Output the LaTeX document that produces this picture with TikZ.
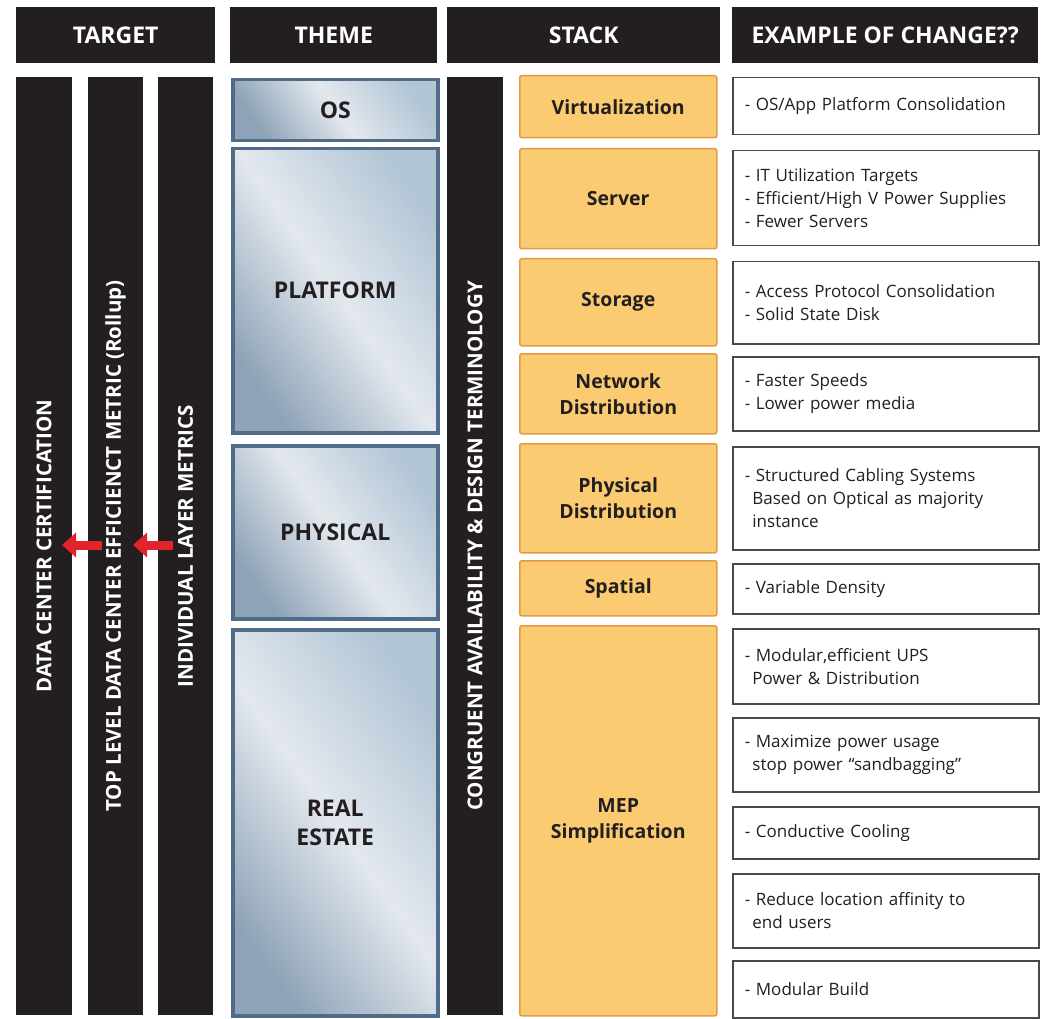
\documentclass[tikz,border=0pt]{standalone}
\usepackage{fontspec}
\setmainfont{Open Sans}
\usetikzlibrary{arrows.meta}
\definecolor{barblack}{HTML}{231F20}
\definecolor{themeedge}{HTML}{4F6D88}
\definecolor{themedark}{HTML}{8EA3B7}
\definecolor{themelight}{HTML}{E3E8EE}
\definecolor{themeblue}{HTML}{B3C6D6}
\definecolor{stackfill}{HTML}{FBCB72}
\definecolor{stackedge}{HTML}{E39A45}
\definecolor{boxedge}{HTML}{4A4A4A}
\definecolor{arrowred}{HTML}{E3232B}

\begin{document}
\begin{tikzpicture}[x=1pt,y=-1pt,
  header/.style={fill=barblack, text=white, anchor=north west, inner sep=0pt,
    font=\bfseries\fontsize{23}{26}\selectfont},
  vbar/.style={fill=barblack, text=white, rotate=90, inner sep=0pt,
    minimum width=938, font=\bfseries\fontsize{20.5}{24}\selectfont},
  themebox/.style={draw=themeedge, line width=3.5pt, anchor=north west,
    left color=themedark, right color=themeblue, middle color=themelight,
    shading angle=125, align=center, text=barblack,
    font=\bfseries\fontsize{23}{29}\selectfont},
  stackbox/.style={draw=stackedge, fill=stackfill, line width=1.5pt,
    rounded corners=2pt, anchor=north west, minimum width=197, align=center,
    text=barblack, font=\bfseries\fontsize{19.5}{26}\selectfont},
  changebox/.style={draw=boxedge, line width=1.5pt, fill=white, anchor=north west,
    minimum width=306, text width=282, inner xsep=12pt, align=left,
    text=barblack, font=\fontsize{17}{23}\selectfont},
  redarrow/.style={draw=arrowred, line width=9pt,
    -{Triangle[length=14pt,width=24pt]}}]
\useasboundingbox (0,0) rectangle (1042,1019);

% column headers
\node[header, minimum width=199, minimum height=56] (target) at (16,7) {TARGET};
\node[header, minimum width=207, minimum height=56] (theme) at (230,7) {THEME};
\node[header, minimum width=273, minimum height=56] (stack) at (447,7) {STACK};
\node[header, minimum width=306, minimum height=56] (change) at (732,7) {EXAMPLE OF CHANGE??};

% target bars
\node[vbar, minimum height=56] (dcc) at (44,546) {DATA CENTER CERTIFICATION};
\node[vbar, minimum height=55] (top) at (115.5,546) {TOP LEVEL DATA CENTER EFFICIENCT METRIC (Rollup)};
\node[vbar, minimum height=55] (lvl) at (185.5,546) {INDIVIDUAL LAYER METRICS};
\node[vbar, minimum height=56] (cong) at (475,546) {CONGRUENT AVAILABILITY \& DESIGN TERMINOLOGY};

\coordinate (toptail) at (102,545);
\coordinate (dcctip) at (62,545);
\coordinate (lvltail) at (173,545);
\coordinate (toptip) at (133,545);
\draw[redarrow] (toptail) -- (dcctip);
\draw[redarrow] (lvltail) -- (toptip);

% theme
\node[themebox, minimum width=205, minimum height=61] (os) at (231,78) {OS};
\node[themebox, minimum width=205, minimum height=284] (platform) at (231,147) {PLATFORM};
\node[themebox, minimum width=205, minimum height=173] (physical) at (231,444) {PHYSICAL};
\node[themebox, minimum width=205, minimum height=386] (realestate) at (231,628) {REAL\\ESTATE};

% stack
\node[stackbox, minimum height=62] (virt) at (519,75) {Virtualization};
\node[stackbox, minimum height=100] (server) at (519,148) {Server};
\node[stackbox, minimum height=87] (storage) at (519,258) {Storage};
\node[stackbox, minimum height=80] (network) at (519,353) {Network\\Distribution};
\node[stackbox, minimum height=109] (physdist) at (519,443) {Physical\\Distribution};
\node[stackbox, minimum height=55] (spatial) at (519,560) {Spatial};
\node[stackbox, minimum height=390] (mep) at (519,625) {MEP\\Simplification};

% example of change
\node[changebox, minimum height=57] (cvirt) at (732,77) {- OS/App Platform Consolidation};
\node[changebox, minimum height=95] (cserver) at (732,150) {- IT Utilization Targets\\- Efficient/High V Power Supplies\\- Fewer Servers};
\node[changebox, minimum height=82] (cstorage) at (732,261) {- Access Protocol Consolidation\\- Solid State Disk};
\node[changebox, minimum height=74] (cnetwork) at (732,356) {- Faster Speeds\\- Lower power media};
\node[changebox, minimum height=103] (cphys) at (732,446) {- Structured Cabling Systems\\\hspace*{0.45em}Based on Optical as majority\\\hspace*{0.45em}instance};
\node[changebox, minimum height=50] (cspatial) at (732,563) {- Variable Density};
\node[changebox, minimum height=75] (cups) at (732,628) {- Modular,efficient UPS\\\hspace*{0.45em}Power \& Distribution};
\node[changebox, minimum height=74] (cpower) at (732,717) {- Maximize power usage\\\hspace*{0.45em}stop power “sandbagging”};
\node[changebox, minimum height=52] (ccool) at (732,806) {- Conductive Cooling};
\node[changebox, minimum height=74] (cloc) at (732,873) {- Reduce location affinity to\\\hspace*{0.45em}end users};
\node[changebox, minimum height=57] (cbuild) at (732,960) {- Modular Build};
\end{tikzpicture}
\end{document}
